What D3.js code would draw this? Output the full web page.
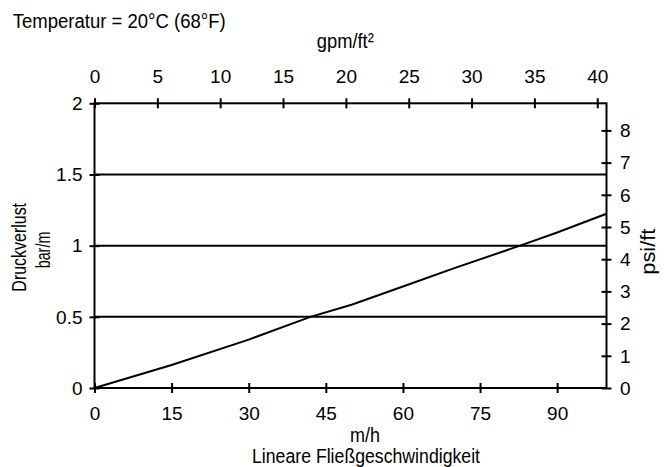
<!DOCTYPE html>
<html>
<head>
<meta charset="utf-8">
<script src="https://cdn.jsdelivr.net/npm/d3@7"></script>
<style>
  body { margin: 0; background: #fff; }
  svg { display: block; }
  .axis text { font-family: "Liberation Sans", Arial, sans-serif; font-size: 19px; fill: #000; }
  .title { font-family: "Liberation Sans", Arial, sans-serif; font-size: 20px; fill: #000; }
</style>
</head>
<body>
<svg id="chart" width="667" height="467"></svg>
<script>
// linear velocity in m/h, pressure drop in bar/m
const velocity = [0, 15, 30, 42, 50, 60, 70, 82.8, 90, 99.6];
const pressureDrop = [0, 0.162, 0.34, 0.5, 0.585, 0.713, 0.842, 1.0, 1.092, 1.224];

const velocityTicks = [0, 15, 30, 45, 60, 75, 90];
const gpmTicks = [0, 5, 10, 15, 20, 25, 30, 35, 40];
const barTicks = [0, 0.5, 1, 1.5, 2];
const psiTicks = [0, 1, 2, 3, 4, 5, 6, 7, 8];
const gridValues = [0.5, 1, 1.5];

const M_H_PER_GPM_FT2 = 2.445;
const PSI_FT_PER_BAR_M = 4.4208;

const svg = d3.select("#chart");
const plotLeft = 94.5, plotRight = 606.5, plotTop = 103.3, plotBottom = 388;

const x = d3.scaleLinear().domain([0, 99.6]).range([plotLeft, plotRight]);
const xTop = d3.scaleLinear().domain([0, 99.6 / M_H_PER_GPM_FT2]).range([plotLeft, plotRight]);
const y = d3.scaleLinear().domain([0, 2]).range([plotBottom, plotTop]);
const yRight = d3.scaleLinear().domain([0, 2 * PSI_FT_PER_BAR_M]).range([plotBottom, plotTop]);

// horizontal reference lines
svg.append("g")
  .selectAll("line")
  .data(gridValues)
  .join("line")
  .attr("x1", plotLeft)
  .attr("x2", plotRight)
  .attr("y1", (d) => y(d))
  .attr("y2", (d) => y(d))
  .attr("stroke", "#000")
  .attr("stroke-width", 2);

// frame
svg.append("rect")
  .attr("x", plotLeft)
  .attr("y", plotTop)
  .attr("width", plotRight - plotLeft)
  .attr("height", plotBottom - plotTop)
  .attr("fill", "none")
  .attr("stroke", "#000")
  .attr("stroke-width", 2);

function crossTicks(g, horizontal) {
  g.select(".domain").remove();
  g.selectAll(".tick line")
    .attr("stroke", "#000")
    .attr("stroke-width", 2)
    .each(function () {
      const tick = d3.select(this);
      if (horizontal) tick.attr("y1", -5).attr("y2", 5);
      else tick.attr("x1", -5).attr("x2", 5);
    });
}

const bottomAxis = svg.append("g")
  .attr("class", "axis")
  .attr("transform", `translate(0,${plotBottom})`)
  .call(d3.axisBottom(x).tickValues(velocityTicks).tickSizeOuter(0));
crossTicks(bottomAxis, true);
bottomAxis.selectAll(".tick text").attr("y", 32).attr("dy", 0);

const topAxis = svg.append("g")
  .attr("class", "axis")
  .attr("transform", `translate(0,${plotTop})`)
  .call(d3.axisTop(xTop).tickValues(gpmTicks).tickSizeOuter(0));
crossTicks(topAxis, true);
topAxis.selectAll(".tick text").attr("y", -20).attr("dy", 0);

const leftAxis = svg.append("g")
  .attr("class", "axis")
  .attr("transform", `translate(${plotLeft},0)`)
  .call(d3.axisLeft(y).tickValues(barTicks).tickFormat(d3.format("~g")).tickSizeOuter(0));
crossTicks(leftAxis, false);
leftAxis.selectAll(".tick text").attr("x", -12).attr("dy", "0.33em");

const rightAxis = svg.append("g")
  .attr("class", "axis")
  .attr("transform", `translate(${plotRight},0)`)
  .call(d3.axisRight(yRight).tickValues(psiTicks).tickSizeOuter(0));
crossTicks(rightAxis, false);
rightAxis.selectAll(".tick text").attr("x", 13.5).attr("dy", "0.33em");

// pressure drop curve
const curve = d3.line()
  .x((d, i) => x(velocity[i]))
  .y((d) => y(d));

svg.append("path")
  .datum(pressureDrop)
  .attr("d", curve)
  .attr("fill", "none")
  .attr("stroke", "#000")
  .attr("stroke-width", 2);

// titles
function title(text, xPos, yPos, length, anchor, rotate, size) {
  const t = svg.append("text")
    .attr("class", "title")
    .attr("text-anchor", anchor)
    .text(text);
  if (size) t.style("font-size", `${size}px`);
  if (length) t.attr("textLength", length).attr("lengthAdjust", "spacingAndGlyphs");
  if (rotate) t.attr("transform", `translate(${xPos},${yPos}) rotate(-90)`);
  else t.attr("x", xPos).attr("y", yPos);
  return t;
}

title("Temperatur = 20°C (68°F)", 12.7, 28.3, 213, "start");
title("gpm/ft²", 345.3, 48.3, 57, "middle");
title("Druckverlust", 25.5, 247.3, 88.7, "middle", true, 21);
title("bar/m", 49.5, 250, 36.7, "middle", true, 21);
title("psi/ft", 654.5, 251.7, 46, "middle", true);
title("m/h", 365, 441.7, 30, "middle");
title("Lineare Fließgeschwindigkeit", 366, 463, 228, "middle");
</script>
</body>
</html>
